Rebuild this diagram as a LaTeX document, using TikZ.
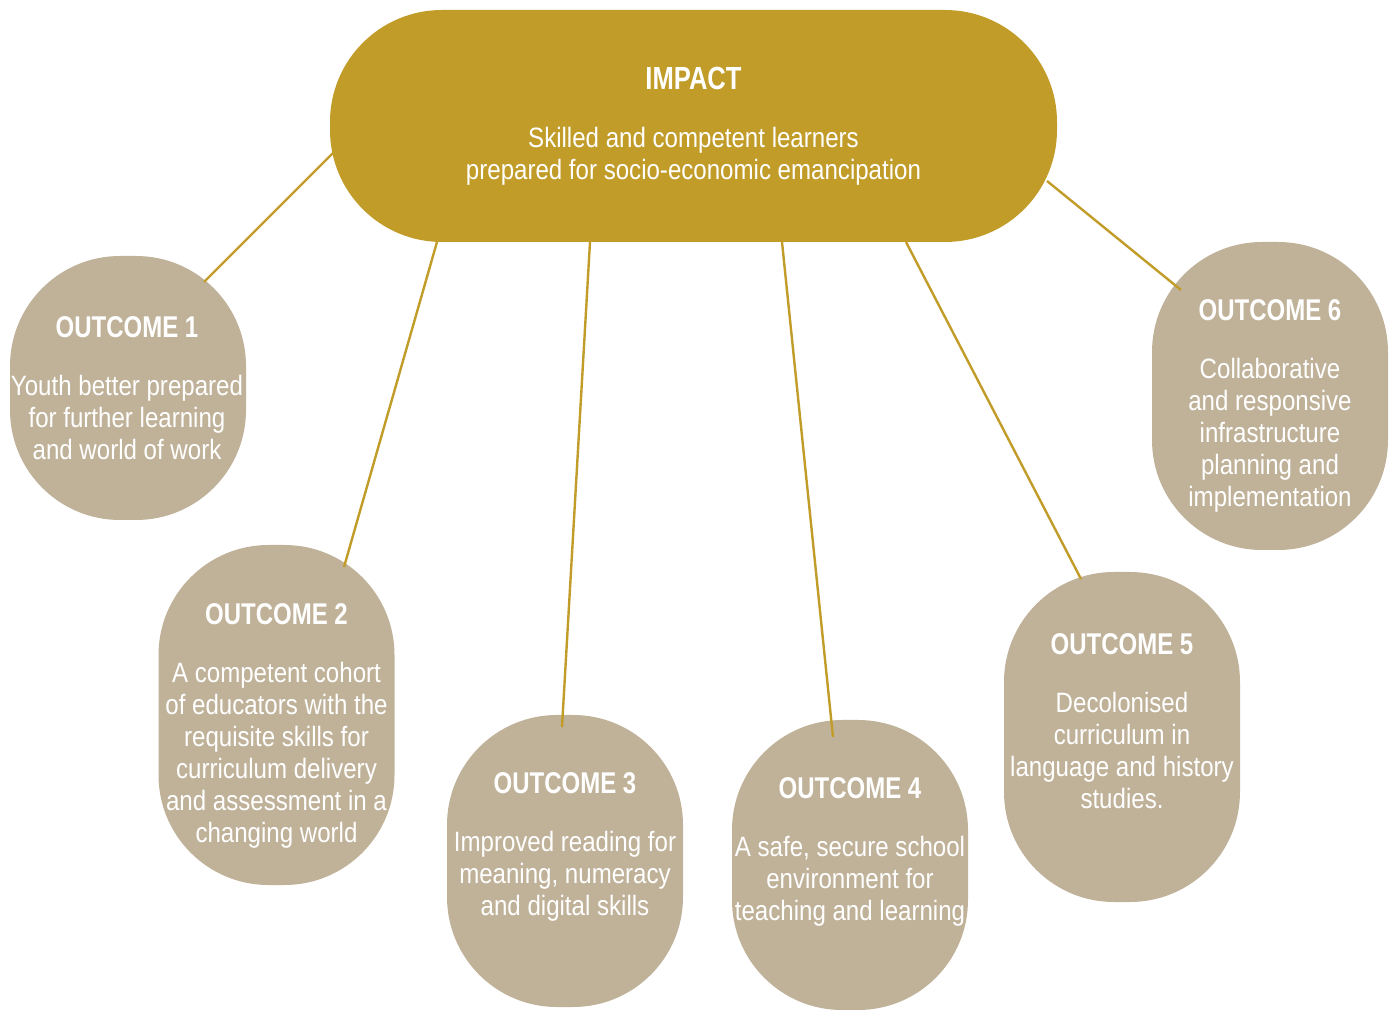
\documentclass[tikz,border=0pt]{standalone}
\usepackage{fontspec}
\setmainfont{Liberation Sans}[FakeStretch=0.86]
\newfontfamily\headfont{Liberation Sans}[FakeStretch=0.8]
\usetikzlibrary{calc}
\definecolor{impactgold}{HTML}{C19C29}
\definecolor{outtan}{HTML}{C0B299}
\newcommand\outhead[1]{{\headfont\bfseries\fontsize{15}{16}\selectfont #1}\\[13pt]}

\begin{document}
\begin{tikzpicture}[
x=0.5pt,y=-0.5pt,
impactbox/.style={
  fill=impactgold,
  rounded corners=56pt,
  minimum width=363.5pt,
  minimum height=116pt,
  inner sep=0pt
  },
outbox/.style={
  fill=outtan,
  rounded corners=55pt,
  minimum width=118pt,
  inner sep=0pt
  },
outtext/.style={text=white,align=center,font=\fontsize{14}{16}\selectfont},
link/.style={draw=impactgold,line width=1.2pt}
]
\useasboundingbox (0,0) rectangle (1394,1010);
% impact
\node[impactbox] (impact) at (693.5,126) {};
\node[outtext] (timpact) at (impact.center)
  {{\headfont\bfseries\fontsize{16}{16}\selectfont IMPACT}\\[13pt]
   Skilled and competent learners\\prepared for socio-economic emancipation};
% outcomes
\foreach \i/\x/\y/\h in {1/128/388/132,2/276.5/715/170,3/565/861/146,4/850/865/145,5/1122/737/165,6/1270/396/154}
  \node[outbox,minimum height=\h pt] (o\i) at (\x,\y) {};
\node[outtext] (t1) at ($(o1.center)+(-1,0)$)
  {\outhead{OUTCOME 1}Youth better prepared\\for further learning\\and world of work};
\node[outtext] (t2) at ($(o2.center)+(0,11)$)
  {\outhead{OUTCOME 2}A competent cohort\\of educators with the\\requisite skills for\\curriculum delivery\\and assessment in a\\changing world};
\node[outtext] (t3) at ($(o3.center)+(0,-14)$)
  {\outhead{OUTCOME 3}Improved reading for\\meaning, numeracy\\and digital skills};
\node[outtext] (t4) at ($(o4.center)+(0,-13)$)
  {\outhead{OUTCOME 4}A safe, secure school\\environment for\\teaching and learning};
\node[outtext] (t5) at ($(o5.center)+(0,-16)$)
  {\outhead{OUTCOME 5}Decolonised\\curriculum in\\language and history\\studies.};
\node[outtext] (t6) at ($(o6.center)+(0,10)$)
  {\outhead{OUTCOME 6}Collaborative\\and responsive\\infrastructure\\planning and\\implementation};
% links
\path[link]
  ($(impact.center)+(-360.5,27)$) edge ($(o1.center)+(76,-106)$)
  ($(impact.center)+(-256.5,116)$) edge ($(o2.center)+(67.5,-148)$)
  ($(impact.center)+(-103.5,116)$) edge ($(o3.center)+(-3,-134)$)
  ($(impact.center)+(88.5,116)$) edge ($(o4.center)+(-17,-128)$)
  ($(impact.center)+(212.5,116)$) edge ($(o5.center)+(-41,-158)$)
  ($(impact.center)+(353.5,55)$) edge ($(o6.center)+(-89,-106)$);
\end{tikzpicture}
\end{document}
